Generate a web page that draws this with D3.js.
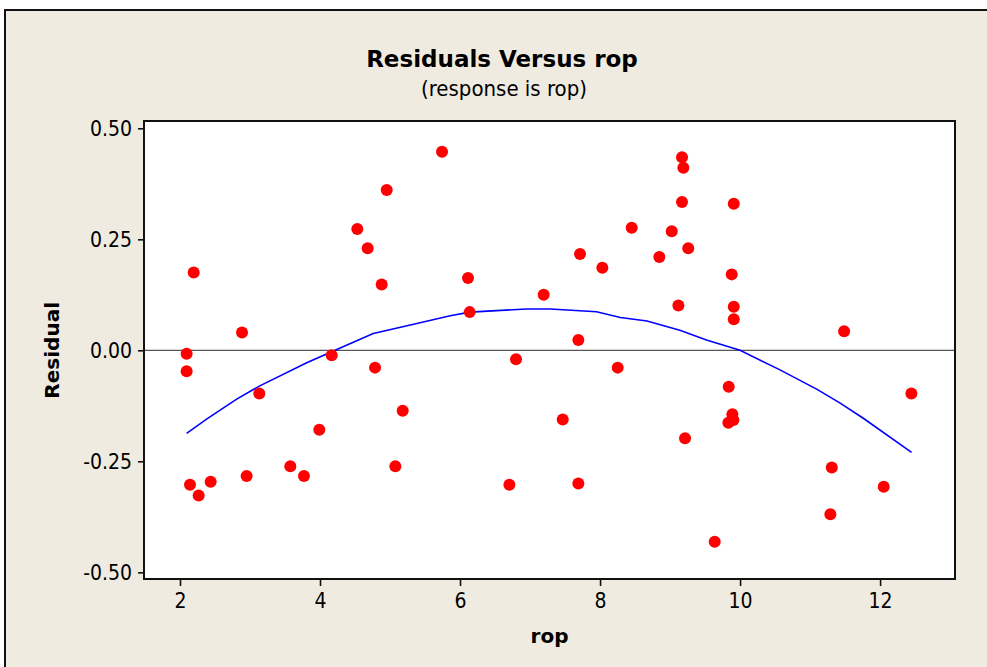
<!DOCTYPE html>
<html>
<head>
<meta charset="utf-8">
<script src="https://cdn.jsdelivr.net/npm/d3@7"></script>
<style>
  body { margin: 0; background: #fff; }
  text { font-family: "DejaVu Sans Condensed", "DejaVu Sans", sans-serif; font-stretch: condensed; }
  .bold { font-family: "DejaVu Sans", sans-serif; font-stretch: normal; font-weight: bold; }
</style>
</head>
<body>
<div id="chart"></div>
<script>
// Residuals (fitted vs observed rop)
const ropValues = [
  2.095, 2.095, 2.196, 2.143, 2.267, 2.438, 2.886, 2.952, 3.133, 3.576,
  3.771, 3.99, 4.167, 4.533, 4.681, 4.786, 4.881, 4.953, 5.076, 5.181,
  5.743, 6.114, 6.138, 6.705, 6.8, 7.195, 7.467, 7.69, 7.69, 7.714,
  8.033, 8.252, 8.452, 8.847, 9.024, 9.119, 9.171, 9.19, 9.171, 9.26,
  9.214, 9.638, 9.838, 9.89, 9.905, 9.833, 9.91, 9.881, 9.91, 9.91,
  11.29, 11.31, 11.486, 12.052, 12.447
];
const residuals = [
  -0.008, -0.047, 0.175, -0.303, -0.327, -0.296, 0.040, -0.283, -0.097, -0.261,
  -0.283, -0.179, -0.011, 0.273, 0.230, -0.039, 0.148, 0.361, -0.261, -0.136,
  0.447, 0.163, 0.086, -0.303, -0.020, 0.125, -0.156, 0.023, -0.300, 0.217,
  0.186, -0.039, 0.276, 0.210, 0.268, 0.101, 0.435, 0.411, 0.334, 0.230,
  -0.198, -0.431, -0.082, -0.144, -0.157, -0.163, 0.330, 0.171, 0.098, 0.070,
  -0.369, -0.264, 0.043, -0.307, -0.097
];

// smoother line through the residuals
const smoothX = [2.095, 2.38, 2.81, 3.14, 3.81, 4.24, 4.76, 5.29, 5.86, 6.14, 6.95, 7.29, 7.95, 8.29, 8.67, 9.14, 9.52, 10.0, 10.57, 11.1, 11.43, 11.76, 12.45];
const smoothY = [-0.187, -0.155, -0.110, -0.080, -0.028, 0.002, 0.038, 0.057, 0.078, 0.086, 0.093, 0.093, 0.087, 0.074, 0.066, 0.045, 0.023, 0.000, -0.044, -0.088, -0.119, -0.153, -0.230];

const xTicks = [2, 4, 6, 8, 10, 12];
const yTicks = [-0.5, -0.25, 0, 0.25, 0.5];

const W = 987, H = 667;
const margin = {top: 121, right: 32, bottom: 88, left: 144};
const width = W - margin.left - margin.right;
const height = H - margin.top - margin.bottom;

const root = d3.select("#chart").append("svg")
    .attr("width", W)
    .attr("height", H);

// beige frame
root.append("rect")
    .attr("x", 5).attr("y", 10)
    .attr("width", W + 10).attr("height", H + 10)
    .attr("fill", "#efebe1")
    .attr("stroke", "#111")
    .attr("stroke-width", 2);

const svg = root.append("g")
    .attr("transform", `translate(${margin.left},${margin.top})`);

const x = d3.scaleLinear().domain([1.486, 13.07]).range([0, width]);
const y = d3.scaleLinear().domain([-0.515, 0.5164]).range([height, 0]);

svg.append("rect")
    .attr("width", width).attr("height", height)
    .attr("fill", "#fff");

// reference line at zero
svg.append("line")
    .attr("x1", 0).attr("x2", width)
    .attr("y1", y(0)).attr("y2", y(0))
    .attr("stroke", "#555")
    .attr("stroke-width", 1.3);

const line = d3.line()
    .x(d => x(d[0]))
    .y(d => y(d[1]));

svg.append("path")
    .datum(d3.zip(smoothX, smoothY))
    .attr("fill", "none")
    .attr("stroke", "#0000ff")
    .attr("stroke-width", 1.6)
    .attr("d", line);

svg.selectAll(".dot")
    .data(d3.zip(ropValues, residuals))
    .enter()
    .append("circle")
    .attr("class", "dot")
    .attr("cx", d => x(d[0]))
    .attr("cy", d => y(d[1]))
    .attr("r", 6)
    .attr("fill", "#ff0000");

svg.append("rect")
    .attr("width", width).attr("height", height)
    .attr("fill", "none")
    .attr("stroke", "#111")
    .attr("stroke-width", 2);

// axes
const xAxis = svg.append("g")
    .attr("transform", `translate(0,${height})`)
    .call(d3.axisBottom(x).tickValues(xTicks).tickSize(7).tickPadding(7).tickFormat(d3.format("d")));

const yAxis = svg.append("g")
    .call(d3.axisLeft(y).tickValues(yTicks).tickSize(6).tickPadding(6)
        .tickFormat(d => d3.format(".2f")(d).replace("−", "-")));

[xAxis, yAxis].forEach(a => {
    a.select(".domain").remove();
    a.selectAll(".tick line").attr("stroke", "#111").attr("stroke-width", 1.6);
    a.selectAll(".tick text")
        .attr("fill", "#000")
        .style("font-size", "21px")
        .style("font-family", "'DejaVu Sans Condensed', 'DejaVu Sans', sans-serif");
});

// axis titles
svg.append("text")
    .attr("class", "bold")
    .attr("x", width / 2)
    .attr("y", height + 64)
    .attr("text-anchor", "middle")
    .style("font-size", "20px")
    .text("rop");

svg.append("text")
    .attr("class", "bold")
    .attr("transform", "rotate(-90)")
    .attr("x", -(y(0)))
    .attr("y", -85)
    .attr("text-anchor", "middle")
    .style("font-size", "20px")
    .text("Residual");

// title
root.append("text")
    .attr("class", "bold")
    .attr("x", 502)
    .attr("y", 67)
    .attr("text-anchor", "middle")
    .style("font-size", "23px")
    .text("Residuals Versus rop");

root.append("text")
    .attr("x", 504)
    .attr("y", 96)
    .attr("text-anchor", "middle")
    .style("font-size", "22px")
    .text("(response is rop)");
</script>
</body>
</html>
